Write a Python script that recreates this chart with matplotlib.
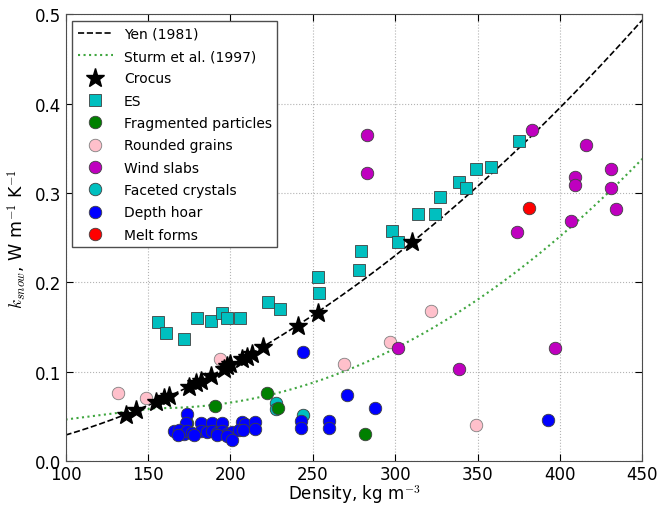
import numpy as np
import matplotlib
matplotlib.use("Agg")
import matplotlib.pyplot as plt

plt.rcParams['mathtext.fontset'] = 'cm'
plt.rcParams['font.family'] = ['DejaVu Sans']

# Model curves (published coefficients)
yen_coef = [2.22362, 1.885]                 # k = a * (rho/1000)^b
sturm_low = [0.023, 0.234]                  # rho < 156: k = a + b*rho
sturm_high = [0.138, -1.01, 3.233]          # rho >= 156: k = a + b*rho + c*rho^2
sturm_break = 156.0

crocus_x = [137, 143, 155, 160, 163, 175, 179, 182, 188, 196, 198, 200, 207, 210, 213, 220, 241, 253, 310]
crocus_y = [0.052, 0.057, 0.066, 0.070, 0.073, 0.083, 0.087, 0.090, 0.095, 0.103, 0.106, 0.109,
            0.114, 0.116, 0.120, 0.128, 0.151, 0.166, 0.245]

es_x = [156, 161, 172, 180, 188, 195, 198, 206, 223, 230, 253, 254, 278, 279, 298, 302, 314, 324,
        327, 339, 343, 349, 358, 375]
es_y = [0.156, 0.143, 0.136, 0.160, 0.157, 0.166, 0.160, 0.160, 0.178, 0.170, 0.206, 0.188, 0.214,
        0.235, 0.257, 0.245, 0.277, 0.276, 0.296, 0.312, 0.305, 0.327, 0.329, 0.358]

frag_x = [174, 191, 222, 229, 282]
frag_y = [0.042, 0.061, 0.076, 0.059, 0.030]

round_x = [132, 149, 194, 269, 297, 322, 349]
round_y = [0.076, 0.070, 0.114, 0.109, 0.133, 0.168, 0.040]

wind_x = [283, 283, 302, 339, 374, 383, 397, 407, 409, 409, 416, 431, 431, 434]
wind_y = [0.365, 0.322, 0.127, 0.103, 0.256, 0.371, 0.127, 0.269, 0.318, 0.309, 0.354, 0.327, 0.306, 0.282]

facet_x = [228, 228, 244]
facet_y = [0.065, 0.058, 0.052]

dh_x = [174, 173, 182, 189, 195, 207, 209, 215,
        166, 169, 172, 174, 177, 182, 186, 189, 192, 195, 198, 201, 205, 208, 215,
        168, 178, 192, 198, 201,
        244, 243, 243, 260, 260, 271, 288, 393]
dh_y = [0.053, 0.043, 0.043, 0.043, 0.043, 0.044, 0.041, 0.044,
        0.033, 0.035, 0.030, 0.034, 0.031, 0.034, 0.032, 0.034, 0.031, 0.034, 0.030, 0.032, 0.035, 0.035, 0.036,
        0.029, 0.029, 0.029, 0.028, 0.023,
        0.122, 0.045, 0.037, 0.045, 0.037, 0.074, 0.059, 0.046]

melt_x = [381]
melt_y = [0.283]

fig = plt.figure(figsize=(6.72, 5.06), dpi=100)
ax = fig.add_axes([0.0975, 0.087, 0.8583, 0.8828])

rho = np.linspace(100, 450, 300)
yen = yen_coef[0] * (rho / 1000.0) ** yen_coef[1]
r = rho / 1000.0
sturm = np.where(rho < sturm_break, sturm_low[0] + sturm_low[1] * r,
                 sturm_high[0] + sturm_high[1] * r + sturm_high[2] * r ** 2)

h_yen, = ax.plot(rho, yen, 'k--', lw=1.2, label='Yen (1981)')
h_sturm, = ax.plot(rho, sturm, ':', color=(0.25, 0.65, 0.25), lw=1.5, label='Sturm et al. (1997)')

ms = 9
mk = dict(ls='none', mec=(0.25, 0.25, 0.25), mew=0.6)
h_es, = ax.plot(es_x, es_y, 's', color='c', ms=ms, label='ES', **mk)
h_round, = ax.plot(round_x, round_y, 'o', color='pink', ms=ms, label='Rounded grains', mfc='pink',
                   ls='none', mec=(0.5, 0.5, 0.5), mew=0.6)
h_wind, = ax.plot(wind_x, wind_y, 'o', color='m', ms=ms, label='Wind slabs', **mk)
h_facet, = ax.plot(facet_x, facet_y, 'o', color='c', ms=ms, label='Faceted crystals', **mk)
h_frag, = ax.plot(frag_x, frag_y, 'o', color='g', ms=ms, label='Fragmented particles', **mk)
h_dh, = ax.plot(dh_x, dh_y, 'o', color='b', ms=ms, label='Depth hoar', **mk)
h_melt, = ax.plot(melt_x, melt_y, 'o', color='r', ms=ms, label='Melt forms', **mk)
h_croc, = ax.plot(crocus_x, crocus_y, '*', color='k', ms=14, ls='none', mec='k', label='Crocus')

ax.set_xlim(100, 450)
ax.set_ylim(0, 0.5)
ax.set_xticks([100, 150, 200, 250, 300, 350, 400, 450])
ax.set_yticks([0.0, 0.1, 0.2, 0.3, 0.4, 0.5])
ax.set_yticklabels(['0.0', '0.1', '0.2', '0.3', '0.4', '0.5'])
ax.grid(True, ls=':', color=(0.7, 0.7, 0.7), lw=0.8)
ax.tick_params(direction='in', top=True, right=True, labelsize=12, length=5, pad=3)
for s in ax.spines.values():
    s.set_color((0.3, 0.3, 0.3))

ax.set_xlabel(r'Density, kg m$^{-3}$', fontsize=12, labelpad=-1)
ax.set_ylabel(r'$k_{snow}$, W m$^{-1}$ K$^{-1}$', fontsize=12.5, labelpad=4)

handles = [h_yen, h_sturm, h_croc, h_es, h_frag, h_round, h_wind, h_facet, h_dh, h_melt]
leg = ax.legend(handles=handles, loc='upper left', numpoints=1, fontsize=10, fancybox=False,
                framealpha=1, borderaxespad=0.5, handlelength=2.5, labelspacing=0.6)
leg.get_frame().set_edgecolor((0.3, 0.3, 0.3))

fig.savefig('out.png', dpi=100)
